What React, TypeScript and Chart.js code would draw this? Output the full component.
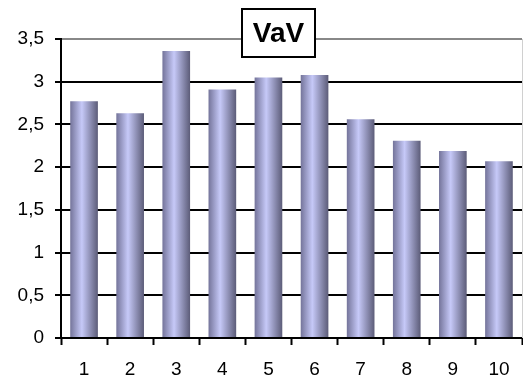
import React, { useEffect, useRef } from "react";
import { Chart, registerables } from "chart.js";

Chart.register(...registerables);

const TITLE = "VaV";
const categories = ["1", "2", "3", "4", "5", "6", "7", "8", "9", "10"];
const values = [2.77, 2.63, 3.36, 2.91, 3.05, 3.08, 2.56, 2.31, 2.19, 2.07];
const yTicks = [0, 0.5, 1, 1.5, 2, 2.5, 3, 3.5];

const BAR_PCT = 0.6;
const FONT = "'Liberation Sans', Arial, sans-serif";

export default function App() {
  const ref = useRef<HTMLCanvasElement>(null);

  useEffect(() => {
    document.body.style.margin = "0";
    const canvas = ref.current!;
    const titlePlugin = {
      id: "boxTitle",
      afterDraw(chart: any) {
        const c = chart.ctx;
        const area = chart.chartArea;
        c.save();
        c.strokeStyle = "#d0d0d0";
        c.lineWidth = 1;
        c.beginPath();
        c.moveTo(area.right + 0.5, area.top);
        c.lineTo(area.right + 0.5, area.bottom);
        c.stroke();
        const x0 = 242, y0 = 9, w = 73, h = 48;
        c.fillStyle = "#fff";
        c.fillRect(x0, y0, w, h);
        c.strokeStyle = "#000";
        c.lineWidth = 2;
        c.strokeRect(x0, y0, w, h);
        c.fillStyle = "#000";
        c.font = `bold 28px ${FONT}`;
        c.textAlign = "center";
        c.textBaseline = "middle";
        c.fillText(TITLE, x0 + w / 2, y0 + h / 2 + 1);
        c.restore();
      },
    };

    const chart = new Chart(canvas, {
      type: "bar",
      data: {
        labels: categories,
        datasets: [
          {
            data: values,
            barPercentage: BAR_PCT,
            categoryPercentage: 1,
            borderWidth: 0,
            backgroundColor: (ctx: any) => {
              const ch = ctx.chart;
              const xs = ch.scales?.x;
              if (!xs || !ch.chartArea) return "#b0b3e0";
              const cx = xs.getPixelForValue(ctx.dataIndex);
              const bw = (xs.width / categories.length) * BAR_PCT;
              const g = ch.ctx.createLinearGradient(cx - bw / 2, 0, cx + bw / 2, 0);
              g.addColorStop(0, "#74749a");
              g.addColorStop(0.42, "#c6c9f8");
              g.addColorStop(1, "#5c5c78");
              return g;
            },
          },
        ],
      },
      options: {
        animation: false,
        responsive: false,
        layout: { padding: { top: 39, right: 1, left: 0, bottom: 0 } },
        plugins: {
          legend: { display: false },
          title: { display: false },
          tooltip: { enabled: false },
        },
        scales: {
          x: {
            grid: {
              drawOnChartArea: false,
              tickLength: 7,
              tickColor: "#000",
              tickWidth: 2,
            },
            border: { color: "#000", width: 2 },
            ticks: {
              color: "#000",
              padding: 13,
              font: { family: FONT, size: 19 },
              maxRotation: 0,
            },
            afterFit: (s: any) => {
              s.height = 43;
            },
          },
          y: {
            min: 0,
            max: 3.5,
            afterBuildTicks: (s: any) => {
              s.ticks = yTicks.map((v) => ({ value: v }));
            },
            grid: {
              color: (ctx: any) => (ctx.tick && ctx.tick.value === 3.5 ? "#888" : "#000"),
              lineWidth: 2,
              tickLength: 6,
              tickColor: "#000",
              tickWidth: 2,
            },
            border: { color: "#000", width: 2 },
            ticks: {
              color: "#000",
              padding: 11,
              font: { family: FONT, size: 19 },
              callback: (v: any) => String(v).replace(".", ","),
            },
            afterFit: (s: any) => {
              s.width = 61;
            },
          },
        },
      },
      plugins: [titlePlugin],
    });
    return () => chart.destroy();
  }, []);

  return (
    <div style={{ position: "absolute", left: 0, top: 0, width: 523, height: 381, background: "#fff" }}>
      <canvas ref={ref} width={523} height={381} style={{ display: "block" }} />
    </div>
  );
}
